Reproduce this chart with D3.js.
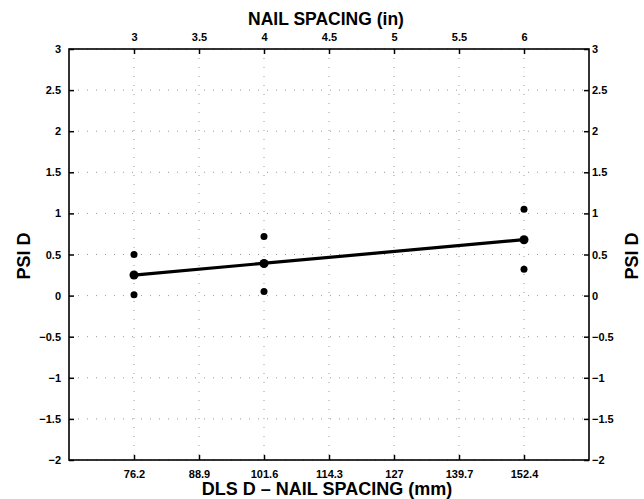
<!DOCTYPE html>
<html>
<head>
<script src="https://d3js.org/d3.v7.min.js"></script>
<style>
  body { margin: 0; background: #fff; }
  text { font-family: "Liberation Sans", Arial, sans-serif; font-weight: bold; fill: #000; }
</style>
</head>
<body>
<svg width="644" height="499"></svg>
<script>
// nail spacing (in) and PSI D values
var spacingIn = [3, 3, 3, 4, 4, 4, 6, 6, 6];
var psiD      = [0.50, 0.01, 0.25, 0.72, 0.05, 0.39, 1.05, 0.32, 0.68];
var fitIn  = [3, 6];
var fitPsi = [0.25, 0.68];

var topTicks = [3, 3.5, 4, 4.5, 5, 5.5, 6];
var mmTicks = [76.2, 88.9, 101.6, 114.3, 127, 139.7, 152.4];
var yTicks = [-2, -1.5, -1, -0.5, 0, 0.5, 1, 1.5, 2, 2.5, 3];

var svg = d3.select('svg');
var pL = 69, pR = 589, pT = 49, pB = 460;

var x = d3.scaleLinear().domain([2.5, 6.5]).range([pL, pR]);
var xmm = d3.scaleLinear().domain([2.5 * 25.4, 6.5 * 25.4]).range([pL, pR]);
var y = d3.scaleLinear().domain([-2, 3]).range([pB, pT]);

// dotted grid
var grid = svg.append('g').attr('stroke', '#999').attr('stroke-width', 1)
  .attr('stroke-dasharray', '1,8');
grid.selectAll('.v').data(topTicks).enter().append('line')
  .attr('x1', d => x(d)).attr('x2', d => x(d))
  .attr('y1', pT).attr('y2', pB);
grid.selectAll('.h').data(yTicks).enter().append('line')
  .attr('x1', pL).attr('x2', pR)
  .attr('y1', d => y(d)).attr('y2', d => y(d));

function styleAxis(g) {
  g.select('.domain').remove();
  g.selectAll('.tick line').attr('stroke', '#000').attr('stroke-width', 1.5);
  g.selectAll('.tick text').style('font-size', '11px').style('font-weight', 'bold')
    .style('font-family', '"Liberation Sans", Arial, sans-serif');
}
var fmtY = d => d < 0 ? '\u2212' + (-d) : d;

svg.append('g').attr('transform', 'translate(0,' + pT + ')')
  .call(d3.axisTop(x).tickValues(topTicks).tickSizeInner(-5).tickSizeOuter(0).tickPadding(8).tickFormat(d3.format('')))
  .call(styleAxis);
svg.append('g').attr('transform', 'translate(0,' + pB + ')')
  .call(d3.axisBottom(xmm).tickValues(mmTicks).tickSizeInner(-5).tickSizeOuter(0).tickPadding(10).tickFormat(d3.format('')))
  .call(styleAxis);
svg.append('g').attr('transform', 'translate(' + pL + ',0)')
  .call(d3.axisLeft(y).tickValues(yTicks).tickSizeInner(-5).tickSizeOuter(0).tickPadding(8).tickFormat(fmtY))
  .call(styleAxis);
svg.append('g').attr('transform', 'translate(' + pR + ',0)')
  .call(d3.axisRight(y).tickValues(yTicks).tickSizeInner(-5).tickSizeOuter(0).tickPadding(3).tickFormat(fmtY))
  .call(styleAxis);

// frame
svg.append('rect').attr('x', pL).attr('y', pT)
  .attr('width', pR - pL).attr('height', pB - pT)
  .attr('fill', 'none').attr('stroke', '#000').attr('stroke-width', 1.6);

// fit line
svg.append('path')
  .datum(d3.zip(fitIn, fitPsi))
  .attr('d', d3.line().x(d => x(d[0])).y(d => y(d[1])))
  .attr('stroke', '#000').attr('stroke-width', 3.2).attr('fill', 'none');

// points
svg.selectAll('circle').data(d3.zip(spacingIn, psiD)).enter().append('circle')
  .attr('cx', d => x(d[0])).attr('cy', d => y(d[1]))
  .attr('r', (d, i) => i % 3 == 2 ? 4.5 : 3.5)
  .attr('fill', '#000');

// titles
svg.append('text').attr('x', 326).attr('y', 25).attr('text-anchor', 'middle')
  .style('font-size', '17.5px').text('NAIL SPACING (in)');
svg.append('text').attr('x', 327).attr('y', 495).attr('text-anchor', 'middle')
  .style('font-size', '18px').text('DLS D \u2013 NAIL SPACING (mm)');
svg.append('text').attr('transform', 'translate(30,256) rotate(-90)').attr('text-anchor', 'middle')
  .style('font-size', '18px').text('PSI D');
svg.append('text').attr('transform', 'translate(638,256) rotate(-90)').attr('text-anchor', 'middle')
  .style('font-size', '18px').text('PSI D');
</script>
</body>
</html>
